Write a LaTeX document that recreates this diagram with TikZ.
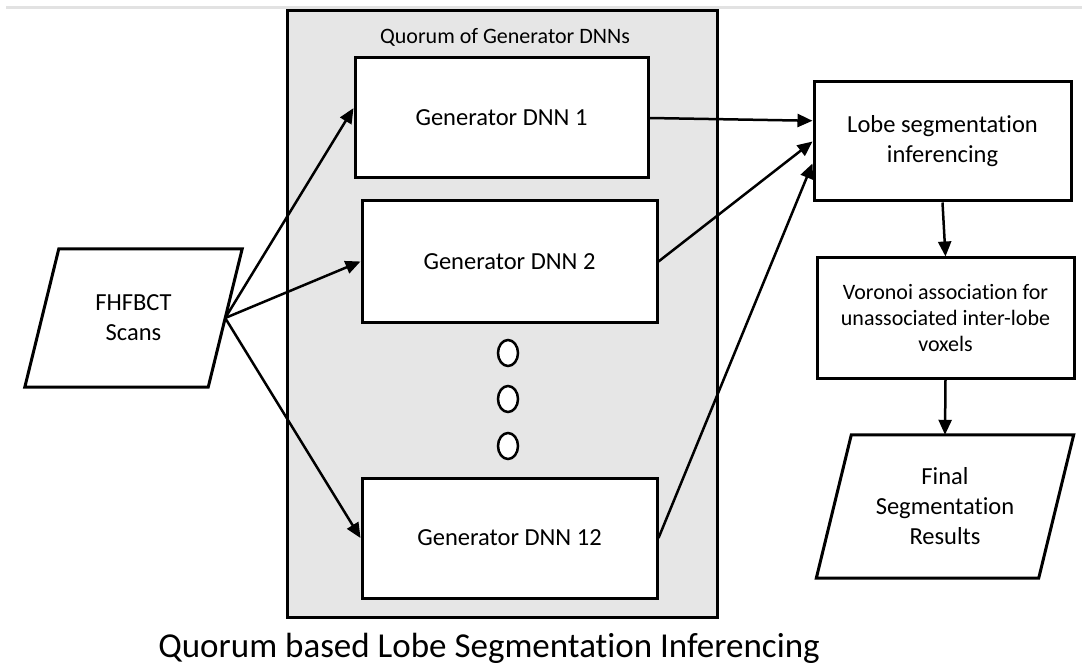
\documentclass[tikz,border=0pt]{standalone}
\usepackage{fontspec}
\setmainfont{Carlito}[Ligatures=NoCommon,RawFeature={-calt;-clig;-dlig}]
\usetikzlibrary{arrows.meta,calc,shapes.geometric}

\definecolor{panelgray}{RGB}{230,230,230}
\definecolor{rulegray}{RGB}{226,226,226}

\begin{document}
\begin{tikzpicture}[x=1pt,y=-1pt,
  box/.style={draw=black, line width=3pt, fill=white, rectangle, inner sep=0pt,
    align=center, font=\fontsize{24.5}{30}\selectfont},
  slantbox/.style={rectangle, inner sep=0pt, align=center,
    font=\fontsize{24.5}{30}\selectfont},
  slantedge/.style={draw=black, line width=3pt, line join=miter},
  arr/.style={line width=2.5pt, -{Triangle[length=15pt,width=13pt]}},
  ovaldot/.style={ellipse, draw=black, line width=2.5pt, fill=white,
    minimum width=20pt, minimum height=26pt, inner sep=0pt}
]
\useasboundingbox (0,0) rectangle (1082,671);

% thin rule along the top
\draw[rulegray, line width=3pt] (6,8) -- (1082,8);

% quorum panel
\node[draw=black, line width=3pt, fill=panelgray, minimum width=430pt,
  minimum height=606pt, inner sep=0pt] (quorum) at (502,314) {};
\node[font=\fontsize{22}{26}\selectfont] (qtitle) at (505,37) {Quorum of Generator DNNs};

% generator networks
\node[box, minimum width=293pt, minimum height=120pt] (g1) at (501.5,118) {Generator DNN 1};
\node[box, minimum width=295pt, minimum height=121pt] (g2) at (509.5,261.5) {Generator DNN 2};
\node[box, minimum width=295pt, minimum height=120pt] (g12) at (509.5,538) {Generator DNN 12};

% ellipsis between the generators
\node[ovaldot] (d1) at (508,353) {};
\node[ovaldot] (d2) at (508,399) {};
\node[ovaldot] (d3) at (508,446) {};

% input scans (parallelogram)
\node[slantbox, minimum width=183pt, minimum height=138pt] (scans) at (133.5,318) {FHFBCT\\Scans};
\draw[slantedge] ([xshift=17pt]scans.north west) -- ([xshift=17pt]scans.north east)
  -- ([xshift=-17pt]scans.south east) -- ([xshift=-17pt]scans.south west) -- cycle;

% right-hand pipeline
\node[box, minimum width=257pt, minimum height=119pt] (lobe) at (942.5,141.5)
  {Lobe segmentation\\inferencing};
\node[box, minimum width=257pt, minimum height=120pt, font=\fontsize{22}{26}\selectfont] (vor) at (945.5,318)
  {Voronoi association for\\unassociated inter-lobe\\voxels};
\node[slantbox, minimum width=222pt, minimum height=143pt] (final) at (945,506.5)
  {Final\\Segmentation\\Results};
\draw[slantedge] ([xshift=17.5pt]final.north west) -- ([xshift=17.5pt]final.north east)
  -- ([xshift=-17.5pt]final.south east) -- ([xshift=-17.5pt]final.south west) -- cycle;

% connectors
\draw[arr] (scans.east) -- ($(g1.north west)!0.42!(g1.south west)$);
\draw[arr] (scans.east) -- (g2.west);
\draw[arr] (scans.east) -- (g12.west);
\draw[arr] (g1.east) -- ($(lobe.north west)!0.33!(lobe.south west)$);
\draw[arr] (g2.east) -- (lobe.west);
\draw[arr] (g12.east) -- ($(lobe.north west)!0.68!(lobe.south west)$);
\draw[arr] (lobe.south) -- (vor.north);
\draw[arr] (vor.south) -- (final.north);

% caption
\node[font=\fontsize{35}{42}\selectfont, anchor=base] (caption) at (489,657)
  {Quorum based Lobe Segmentation Inferencing};
\end{tikzpicture}
\end{document}
